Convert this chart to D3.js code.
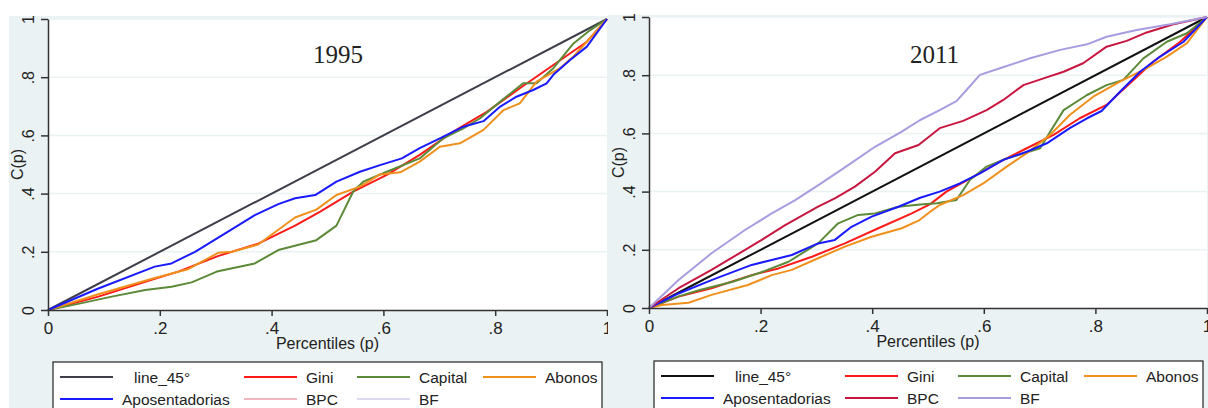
<!DOCTYPE html>
<html>
<head>
<meta charset="utf-8">
<script src="https://cdn.jsdelivr.net/npm/d3@7"></script>
<style>
  body { margin: 0; background: #fff; }
  text { font-family: Arial, "Liberation Sans", sans-serif; }
</style>
</head>
<body>
<svg id="chart" width="1208" height="408"></svg>
<script>
// Valeurs : [percentile p, C(p)]
const pTicks = [0, 0.2, 0.4, 0.6, 0.8, 1];
const seriesNames = ["line_45°", "Gini", "Capital", "Abonos", "Aposentadorias", "BPC", "BF"];

const line45 = [[0, 0], [1, 1]];

const gini1995 = [[0,0],[0.09,0.046],[0.191,0.107],[0.233,0.132],[0.305,0.186],[0.376,0.228],[0.442,0.29],[0.487,0.338],[0.546,0.407],[0.606,0.464],[0.665,0.533],[0.725,0.613],[0.785,0.681],[0.844,0.762],[0.904,0.842],[0.964,0.922],[1,1]];
const capital1995 = [[0,0],[0.054,0.021],[0.114,0.046],[0.174,0.069],[0.221,0.08],[0.257,0.095],[0.302,0.132],[0.37,0.16],[0.412,0.206],[0.48,0.24],[0.516,0.29],[0.546,0.407],[0.564,0.441],[0.606,0.475],[0.665,0.521],[0.707,0.59],[0.743,0.624],[0.773,0.659],[0.809,0.716],[0.85,0.779],[0.874,0.779],[0.904,0.831],[0.94,0.916],[0.97,0.962],[1,1]];
const abonos1995 = [[0,0],[0.09,0.054],[0.191,0.11],[0.25,0.14],[0.305,0.197],[0.329,0.2],[0.376,0.225],[0.442,0.318],[0.48,0.345],[0.516,0.395],[0.558,0.424],[0.594,0.466],[0.63,0.473],[0.665,0.51],[0.701,0.561],[0.737,0.573],[0.779,0.619],[0.815,0.687],[0.844,0.71],[0.874,0.785],[0.916,0.831],[0.94,0.871],[0.975,0.945],[1,1]];
const apos1995 = [[0,0],[0.09,0.074],[0.191,0.149],[0.221,0.16],[0.263,0.2],[0.317,0.263],[0.37,0.326],[0.412,0.364],[0.442,0.384],[0.478,0.395],[0.516,0.441],[0.558,0.475],[0.594,0.498],[0.633,0.521],[0.665,0.556],[0.701,0.59],[0.743,0.63],[0.779,0.649],[0.809,0.699],[0.838,0.733],[0.868,0.756],[0.892,0.779],[0.904,0.808],[0.934,0.859],[0.964,0.905],[1,1]];

const gini2011 = [[0,0],[0.053,0.039],[0.112,0.068],[0.184,0.113],[0.232,0.136],[0.292,0.176],[0.351,0.222],[0.411,0.274],[0.471,0.325],[0.504,0.357],[0.533,0.4],[0.581,0.451],[0.629,0.503],[0.677,0.549],[0.725,0.595],[0.772,0.652],[0.82,0.698],[0.862,0.772],[0.904,0.847],[0.952,0.915],[1,1]];
const capital2011 = [[0,0],[0.053,0.04],[0.091,0.062],[0.15,0.09],[0.2,0.122],[0.25,0.159],[0.303,0.222],[0.339,0.291],[0.375,0.32],[0.405,0.325],[0.447,0.348],[0.486,0.356],[0.516,0.36],[0.551,0.371],[0.575,0.44],[0.605,0.486],[0.641,0.514],[0.701,0.549],[0.719,0.606],[0.743,0.68],[0.785,0.732],[0.82,0.766],[0.85,0.784],[0.886,0.858],[0.928,0.915],[0.964,0.944],[1,1]];
const abonos2011 = [[0,0],[0.023,0.01],[0.071,0.018],[0.112,0.045],[0.177,0.079],[0.22,0.113],[0.256,0.131],[0.303,0.171],[0.351,0.211],[0.399,0.245],[0.453,0.274],[0.483,0.3],[0.504,0.331],[0.521,0.354],[0.563,0.388],[0.599,0.428],[0.641,0.486],[0.677,0.532],[0.719,0.595],[0.754,0.663],[0.796,0.726],[0.844,0.778],[0.892,0.824],[0.928,0.864],[0.964,0.91],[1,1]];
const apos2011 = [[0,0],[0.053,0.05],[0.112,0.096],[0.184,0.148],[0.22,0.165],[0.256,0.182],[0.303,0.222],[0.333,0.234],[0.363,0.279],[0.399,0.314],[0.447,0.348],[0.486,0.379],[0.521,0.4],[0.557,0.428],[0.593,0.463],[0.635,0.509],[0.677,0.537],[0.713,0.566],[0.754,0.618],[0.785,0.652],[0.811,0.677],[0.844,0.743],[0.88,0.812],[0.916,0.864],[0.958,0.915],[1,1]];
const bpc2011 = [[0,0],[0.053,0.068],[0.112,0.131],[0.142,0.165],[0.202,0.234],[0.244,0.285],[0.303,0.348],[0.333,0.377],[0.369,0.417],[0.405,0.468],[0.441,0.532],[0.483,0.56],[0.521,0.618],[0.563,0.643],[0.605,0.68],[0.635,0.715],[0.671,0.766],[0.707,0.789],[0.743,0.812],[0.778,0.841],[0.82,0.898],[0.856,0.918],[0.892,0.947],[0.94,0.975],[1,1]];
const bf2011 = [[0,0],[0.053,0.096],[0.112,0.188],[0.172,0.268],[0.22,0.325],[0.262,0.371],[0.309,0.429],[0.357,0.491],[0.405,0.554],[0.453,0.606],[0.486,0.646],[0.521,0.68],[0.551,0.711],[0.569,0.749],[0.593,0.801],[0.629,0.824],[0.683,0.858],[0.737,0.887],[0.785,0.906],[0.82,0.932],[0.874,0.955],[0.934,0.975],[1,1]];

// Mise en page des deux panneaux
const panels = [
  { title: "1995", bg: [9, 16, 608, 408], x0: 48, x1: 607, y0: 310, y1: 19, titleX: 313, legX: 53, legY: 362,
    data: [line45, gini1995, capital1995, abonos1995, apos1995, null, null],
    colors: ["#3e3e4a", "#ff1a1a", "#5c8a38", "#f0901c", "#1a1aff", "#f2b6c0", "#dcdaf0"] },
  { title: "2011", bg: [608, 15, 1208, 408], x0: 649, x1: 1207, y0: 308, y1: 17, titleX: 910, legX: 654, legY: 361,
    data: [line45, gini2011, capital2011, abonos2011, apos2011, bpc2011, bf2011],
    colors: ["#111111", "#ff1a1a", "#5c8a38", "#f0901c", "#1a1aff", "#c8173f", "#a89ce0"] }
];

const svg = d3.select("#chart");
const fmt = d => d === 0 ? "0" : d === 1 ? "1" : String(d).replace("0.", ".");

panels.forEach(function(cfg) {
  const g = svg.append("g");

  // Fonds
  g.append("rect")
    .attr("x", cfg.bg[0]).attr("y", cfg.bg[1])
    .attr("width", cfg.bg[2] - cfg.bg[0]).attr("height", cfg.bg[3] - cfg.bg[1])
    .attr("fill", "#eaf2f3");
  g.append("rect")
    .attr("x", cfg.x0).attr("y", cfg.y1)
    .attr("width", cfg.x1 - cfg.x0).attr("height", cfg.y0 - cfg.y1)
    .attr("fill", "#fff");

  const x = d3.scaleLinear().domain([0, 1]).range([cfg.x0, cfg.x1]);
  const y = d3.scaleLinear().domain([0, 1]).range([cfg.y0, cfg.y1]);

  // Grille
  g.selectAll(".grid")
    .data(pTicks.filter(d => d > 0))
    .enter().append("line")
      .attr("x1", cfg.x0).attr("x2", cfg.x1)
      .attr("y1", d => y(d)).attr("y2", d => y(d))
      .attr("stroke", "#eaf2f3").attr("stroke-width", 1.5);

  // Courbes
  const line = d3.line().x(d => x(d[0])).y(d => y(d[1]));
  cfg.data.forEach(function(s, i) {
    if (!s) return;
    g.append("path")
      .datum(s)
      .attr("d", line)
      .attr("fill", "none")
      .attr("stroke", cfg.colors[i])
      .attr("stroke-width", 2)
      .attr("stroke-linejoin", "round");
  });

  // Axes
  const xAxis = g.append("g")
    .attr("transform", "translate(0," + cfg.y0 + ")")
    .call(d3.axisBottom(x).tickValues(pTicks).tickFormat(fmt).tickSize(6).tickSizeOuter(0).tickPadding(6));
  xAxis.selectAll("text").style("font-size", "17px").attr("fill", "#222");

  const yAxis = g.append("g")
    .attr("transform", "translate(" + cfg.x0 + ",0)")
    .call(d3.axisLeft(y).tickValues(pTicks).tickFormat(fmt).tickSize(7).tickSizeOuter(0));
  yAxis.selectAll("text")
    .attr("transform", "rotate(-90)")
    .attr("x", 0).attr("y", -14).attr("dy", 0)
    .style("text-anchor", "middle")
    .style("font-size", "16px").attr("fill", "#222");

  [xAxis, yAxis].forEach(a => {
    a.select(".domain").attr("stroke", "#333").attr("stroke-width", 1.5);
    a.selectAll(".tick line").attr("stroke", "#333").attr("stroke-width", 1.5);
  });

  // Titres des axes
  g.append("text")
    .attr("x", (cfg.x0 + cfg.x1) / 2).attr("y", cfg.y0 + 39)
    .attr("text-anchor", "middle")
    .style("font-size", "16px").attr("fill", "#222")
    .text("Percentiles (p)");
  g.append("text")
    .attr("transform", "translate(" + (cfg.x0 - 25) + "," + ((cfg.y0 + cfg.y1) / 2) + ") rotate(-90)")
    .attr("text-anchor", "middle")
    .style("font-size", "16px").attr("fill", "#222")
    .text("C(p)");

  // Année
  g.append("text")
    .attr("x", cfg.titleX).attr("y", 63)
    .style("font-family", "'Liberation Serif', 'Times New Roman', serif")
    .style("font-size", "25px").attr("fill", "#222")
    .text(cfg.title);

  // Légende
  const leg = g.append("g").attr("transform", "translate(" + cfg.legX + "," + cfg.legY + ")");
  leg.append("rect")
    .attr("x", 0).attr("y", 0).attr("width", 549).attr("height", 60)
    .attr("fill", "#fff").attr("stroke", "#222").attr("stroke-width", 1.2);
  const colX = [7, 191, 304, 430];
  seriesNames.forEach(function(name, i) {
    const cx = colX[i % 4], cy = i < 4 ? 15 : 37;
    leg.append("line")
      .attr("x1", cx).attr("x2", cx + 53)
      .attr("y1", cy).attr("y2", cy)
      .attr("stroke", cfg.colors[i]).attr("stroke-width", 2);
    leg.append("text")
      .attr("x", cx + (i === 0 ? 74 : 62)).attr("y", cy + 6)
      .style("font-size", "15.5px").attr("fill", "#222")
      .text(name);
  });
});
</script>
</body>
</html>
